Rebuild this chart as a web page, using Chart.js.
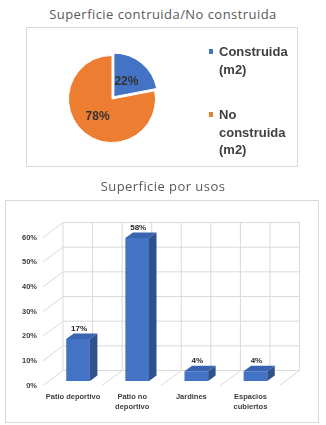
<!DOCTYPE html>
<html>
<head>
<meta charset="utf-8">
<script src="https://cdn.jsdelivr.net/npm/chart.js@4.4.1/dist/chart.umd.min.js"></script>
<style>
  html, body { margin: 0; padding: 0; background: #fff; }
  body { width: 326px; height: 425px; position: relative; overflow: hidden; font-family: "Open Sans", "Liberation Sans", sans-serif; }
  .title { position: absolute; left: 0; width: 326px; text-align: center; font-size: 13px; color: #595959; letter-spacing: 0.45px; line-height: 16px; }
  .box { position: absolute; border: 1px solid #d9d9d9; box-sizing: border-box; }
  .box canvas { position: absolute; left: 0; top: 0; }
  #legend { position: absolute; left: 207px; top: 43px; }
  .lg-item { position: relative; padding-left: 12px; width: 80px; font-family: "Liberation Sans", sans-serif; font-weight: bold; font-size: 13px; line-height: 17.5px; color: #404040; margin-bottom: 28px; }
  .lg-sw { position: absolute; left: 2px; top: 6px; width: 4px; height: 5px; }
</style>
</head>
<body>
<div class="title" style="top:6px;">Superficie contruida/No construida</div>
<div class="box" style="left:26px; top:27px; width:272px; height:140px;">
  <canvas id="pie" width="270" height="138"></canvas>
</div>
<div id="legend"></div>

<div class="title" style="top:178px;">Superficie por usos</div>
<div class="box" style="left:5px; top:200px; width:314px; height:223px;">
  <canvas id="bar" width="312" height="221"></canvas>
</div>

<script>
// ---------- data ----------
const pieLabels = ['Construida (m2)', 'No construida (m2)'];
const pieValues = [22, 78];
const pieColors = ['#4472C4', '#ED7D31'];

const categories = [['Patio deportivo'], ['Patio no', 'deportivo'], ['Jardines'], ['Espacios', 'cubiertos']];
const usageValues = [17, 58, 4, 4];
const yTickValues = [0, 10, 20, 30, 40, 50, 60];

// ---------- legend (HTML) ----------
const legendEl = document.getElementById('legend');
pieLabels.forEach((lab, i) => {
  const it = document.createElement('div');
  it.className = 'lg-item';
  const sw = document.createElement('span');
  sw.className = 'lg-sw';
  sw.style.background = pieColors[i];
  it.appendChild(sw);
  it.appendChild(document.createTextNode(lab));
  legendEl.appendChild(it);
});

// ---------- pie ----------
const pieLabelPlugin = {
  id: 'pieLabels',
  afterDatasetsDraw(chart) {
    const ctx = chart.ctx;
    const meta = chart.getDatasetMeta(0);
    const total = pieValues.reduce((a, b) => a + b, 0);
    ctx.save();
    ctx.font = 'bold 12px "Liberation Sans", sans-serif';
    ctx.fillStyle = '#333333';
    ctx.textAlign = 'center';
    ctx.textBaseline = 'middle';
    meta.data.forEach((arc, i) => {
      const p = arc.getProps(['x', 'y', 'startAngle', 'endAngle', 'outerRadius'], true);
      const mid = (p.startAngle + p.endAngle) / 2;
      const r = p.outerRadius * 0.52;
      const tx = p.x + Math.cos(mid) * r;
      const ty = p.y + Math.sin(mid) * r;
      ctx.fillText(Math.round(pieValues[i] / total * 100) + '%', tx, ty);
    });
    ctx.restore();
  }
};

new Chart(document.getElementById('pie'), {
  type: 'pie',
  data: {
    labels: pieLabels,
    datasets: [{
      data: pieValues,
      backgroundColor: pieColors,
      borderColor: '#ffffff',
      borderWidth: 1,
      offset: [12, 0],
      radius: 43.5
    }]
  },
  options: {
    responsive: false,
    animation: false,
    layout: { padding: { left: 40, right: 140, top: 26, bottom: 22 } },
    plugins: { legend: { display: false }, tooltip: { enabled: false } }
  },
  plugins: [pieLabelPlugin]
});

// ---------- 3D bar ----------
const FRONT = { dx: -5.5, dy: 4.5 };
const BACK = { dx: 14.5, dy: -10.5 };
const BAR_DEPTH = { dx: 7.5, dy: -5.5 };

const gridPlugin = {
  id: 'grid3d',
  beforeDatasetsDraw(chart) {
    const ctx = chart.ctx;
    const xs = chart.scales.x, ys = chart.scales.y;
    const L = chart.chartArea.left, R = chart.chartArea.right;
    const y0 = ys.getPixelForValue(0), yTop = ys.getPixelForValue(60);
    const step = xs.getPixelForValue(1) - xs.getPixelForValue(0);
    ctx.save();
    ctx.strokeStyle = '#d9d9d9';
    ctx.lineWidth = 1;
    ctx.beginPath();
    yTickValues.forEach(v => {
      const y = ys.getPixelForValue(v);
      ctx.moveTo(L + FRONT.dx, y + FRONT.dy);
      ctx.lineTo(L + BACK.dx, y + BACK.dy);
      ctx.lineTo(R + BACK.dx, y + BACK.dy);
    });
    for (let k = 0; k <= categories.length * 2; k++) {
      const x = L + k * step / 2 + BACK.dx;
      ctx.moveTo(x, y0 + BACK.dy);
      ctx.lineTo(x, yTop + BACK.dy);
    }
    for (let k = 1; k <= categories.length; k++) {
      const x = L + k * step;
      ctx.moveTo(x + FRONT.dx, y0 + FRONT.dy);
      ctx.lineTo(x + BACK.dx, y0 + BACK.dy);
    }
    ctx.stroke();
    ctx.restore();
  },
  afterDatasetsDraw(chart) {
    const ctx = chart.ctx;
    const meta = chart.getDatasetMeta(0);
    ctx.save();
    meta.data.forEach((bar, i) => {
      const p = bar.getProps(['x', 'y', 'base', 'width'], true);
      const l = p.x - p.width / 2, r = p.x + p.width / 2;
      const t = p.y, b = p.base;
      ctx.fillStyle = '#2F528F';
      ctx.beginPath();
      ctx.moveTo(r, t);
      ctx.lineTo(r + BAR_DEPTH.dx, t + BAR_DEPTH.dy);
      ctx.lineTo(r + BAR_DEPTH.dx, b + BAR_DEPTH.dy);
      ctx.lineTo(r, b);
      ctx.closePath();
      ctx.fill();
      ctx.fillStyle = '#3A63B0';
      ctx.beginPath();
      ctx.moveTo(l, t);
      ctx.lineTo(l + BAR_DEPTH.dx, t + BAR_DEPTH.dy);
      ctx.lineTo(r + BAR_DEPTH.dx, t + BAR_DEPTH.dy);
      ctx.lineTo(r, t);
      ctx.closePath();
      ctx.fill();
      ctx.fillStyle = '#262626';
      ctx.font = 'bold 8px "Liberation Sans Narrow", "Liberation Sans", sans-serif';
      ctx.textAlign = 'center';
      ctx.textBaseline = 'middle';
      ctx.fillText(usageValues[i] + '%', p.x + 1, t - 10.5);
    });
    ctx.restore();
  }
};

new Chart(document.getElementById('bar'), {
  type: 'bar',
  data: {
    labels: categories,
    datasets: [{
      data: usageValues,
      backgroundColor: '#4472C4',
      borderWidth: 0,
      barPercentage: 0.4,
      categoryPercentage: 1.0
    }]
  },
  options: {
    responsive: false,
    animation: false,
    layout: { padding: { left: 0, right: 33, top: 32, bottom: 0 } },
    plugins: { legend: { display: false }, tooltip: { enabled: false } },
    scales: {
      x: {
        grid: { display: false, drawTicks: false },
        border: { display: false },
        ticks: {
          autoSkip: false, maxRotation: 0, minRotation: 0,
          padding: 11, labelOffset: -5,
          color: '#404040',
          font: { family: '"Liberation Sans Narrow", "Liberation Sans", sans-serif', size: 7.5, weight: 'bold', lineHeight: 1.3 }
        },
        afterFit(scale) { scale.height = 41; }
      },
      y: {
        min: 0, max: 60,
        grid: { display: false, drawTicks: false },
        border: { display: false },
        afterBuildTicks(scale) { scale.ticks = yTickValues.map(v => ({ value: v })); },
        ticks: {
          padding: 11.5, labelOffset: 4.5,
          color: '#404040',
          font: { family: '"Liberation Sans Narrow", "Liberation Sans", sans-serif', size: 7.5, weight: 'bold' },
          callback: v => v + '%'
        },
        afterFit(scale) { scale.width = 42.5; }
      }
    }
  },
  plugins: [gridPlugin]
});
</script>
</body>
</html>
